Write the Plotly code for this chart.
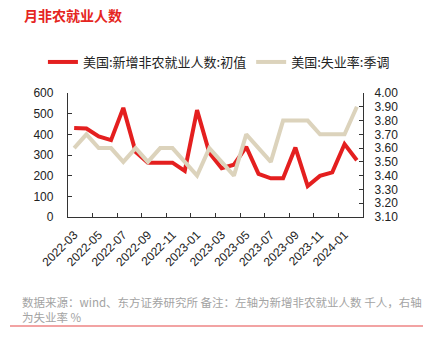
import plotly.graph_objects as go

months = ["2022-03", "2022-04", "2022-05", "2022-06", "2022-07", "2022-08",
          "2022-09", "2022-10", "2022-11", "2022-12", "2023-01", "2023-02",
          "2023-03", "2023-04", "2023-05", "2023-06", "2023-07", "2023-08",
          "2023-09", "2023-10", "2023-11", "2023-12", "2024-01", "2024-02"]
nonfarm = [431, 428, 390, 372, 528, 315, 263, 261, 263, 223, 517, 311,
           236, 253, 339, 209, 187, 187, 336, 150, 199, 216, 353, 275]
unemp = [3.6, 3.7, 3.6, 3.6, 3.5, 3.6, 3.5, 3.6, 3.6, 3.5, 3.4, 3.6,
         3.5, 3.4, 3.7, 3.6, 3.5, 3.8, 3.8, 3.8, 3.7, 3.7, 3.7, 3.9]
name_nf = "美国:新增非农就业人数:初值"
name_un = "美国:失业率:季调"
title = "月非农就业人数"
source = "数据来源：wind、东方证券研究所 备注：左轴为新增非农就业人数 千人，右轴<br>为失业率 %"

RED = "#e41f1f"
BEIGE = "#dcd3bc"
FONT = "Liberation Sans, Arial, Noto Sans CJK SC"
CJK = "Noto Sans CJK SC, Liberation Sans"

W, H = 430, 349
L, R, T, B = 68, 67, 93, 132

fig = go.Figure()
fig.add_trace(go.Scatter(x=months, y=nonfarm, name=name_nf, mode="lines",
                         line=dict(color=RED, width=4), yaxis="y"))
fig.add_trace(go.Scatter(x=months, y=unemp, name=name_un, mode="lines",
                         line=dict(color=BEIGE, width=4), yaxis="y2"))

axis_common = dict(showgrid=False, zeroline=False, showline=True,
                   linecolor="#333333", linewidth=1.3, ticks="inside",
                   ticklen=4, tickcolor="#333333",
                   tickfont=dict(family=FONT, size=12, color="#222222"))

fig.update_layout(
    width=W, height=H,
    margin=dict(l=L, r=R, t=T, b=B, pad=0),
    paper_bgcolor="white", plot_bgcolor="white",
    showlegend=True,
    legend=dict(orientation="h", x=-0.085, y=1.25, xanchor="left", yanchor="middle",
                font=dict(family=CJK, size=13, color="#222222"),
                bgcolor="rgba(0,0,0,0)", itemwidth=30, tracegroupgap=0),
    xaxis=dict(type="category", tickson="boundaries", dtick=2, tickangle=-45,
               ticklabelstandoff=5,
               range=[-0.5, len(months) - 0.5], **axis_common),
    yaxis=dict(range=[0, 600], dtick=100, ticklabelstandoff=11, **axis_common),
    yaxis2=dict(range=[3.1, 4.0], dtick=0.1, tickformat=".2f", overlaying="y",
                side="right", ticklabelstandoff=8, **axis_common),
)

fig.add_annotation(text=title, xref="paper", yref="paper",
                   x=(22 - L) / (W - L - R), y=(H - B - 15) / (H - T - B),
                   xanchor="left", yanchor="middle", showarrow=False,
                   font=dict(family=CJK, size=14, color="#e52521", weight="bold"))
fig.add_annotation(text=source, xref="paper", yref="paper",
                   x=(20 - L) / (W - L - R), y=(H - B - 292) / (H - T - B),
                   xanchor="left", yanchor="top", align="left", showarrow=False,
                   font=dict(family=CJK, size=11.5, color="#a3a3a3"))
fig.add_shape(type="line", xref="paper", yref="paper",
              x0=(10 - L) / (W - L - R), x1=(423 - L) / (W - L - R),
              y0=(H - B - 326) / (H - T - B), y1=(H - B - 326) / (H - T - B),
              line=dict(color="#f2a3a3", width=2))

fig.write_html("out.html")
